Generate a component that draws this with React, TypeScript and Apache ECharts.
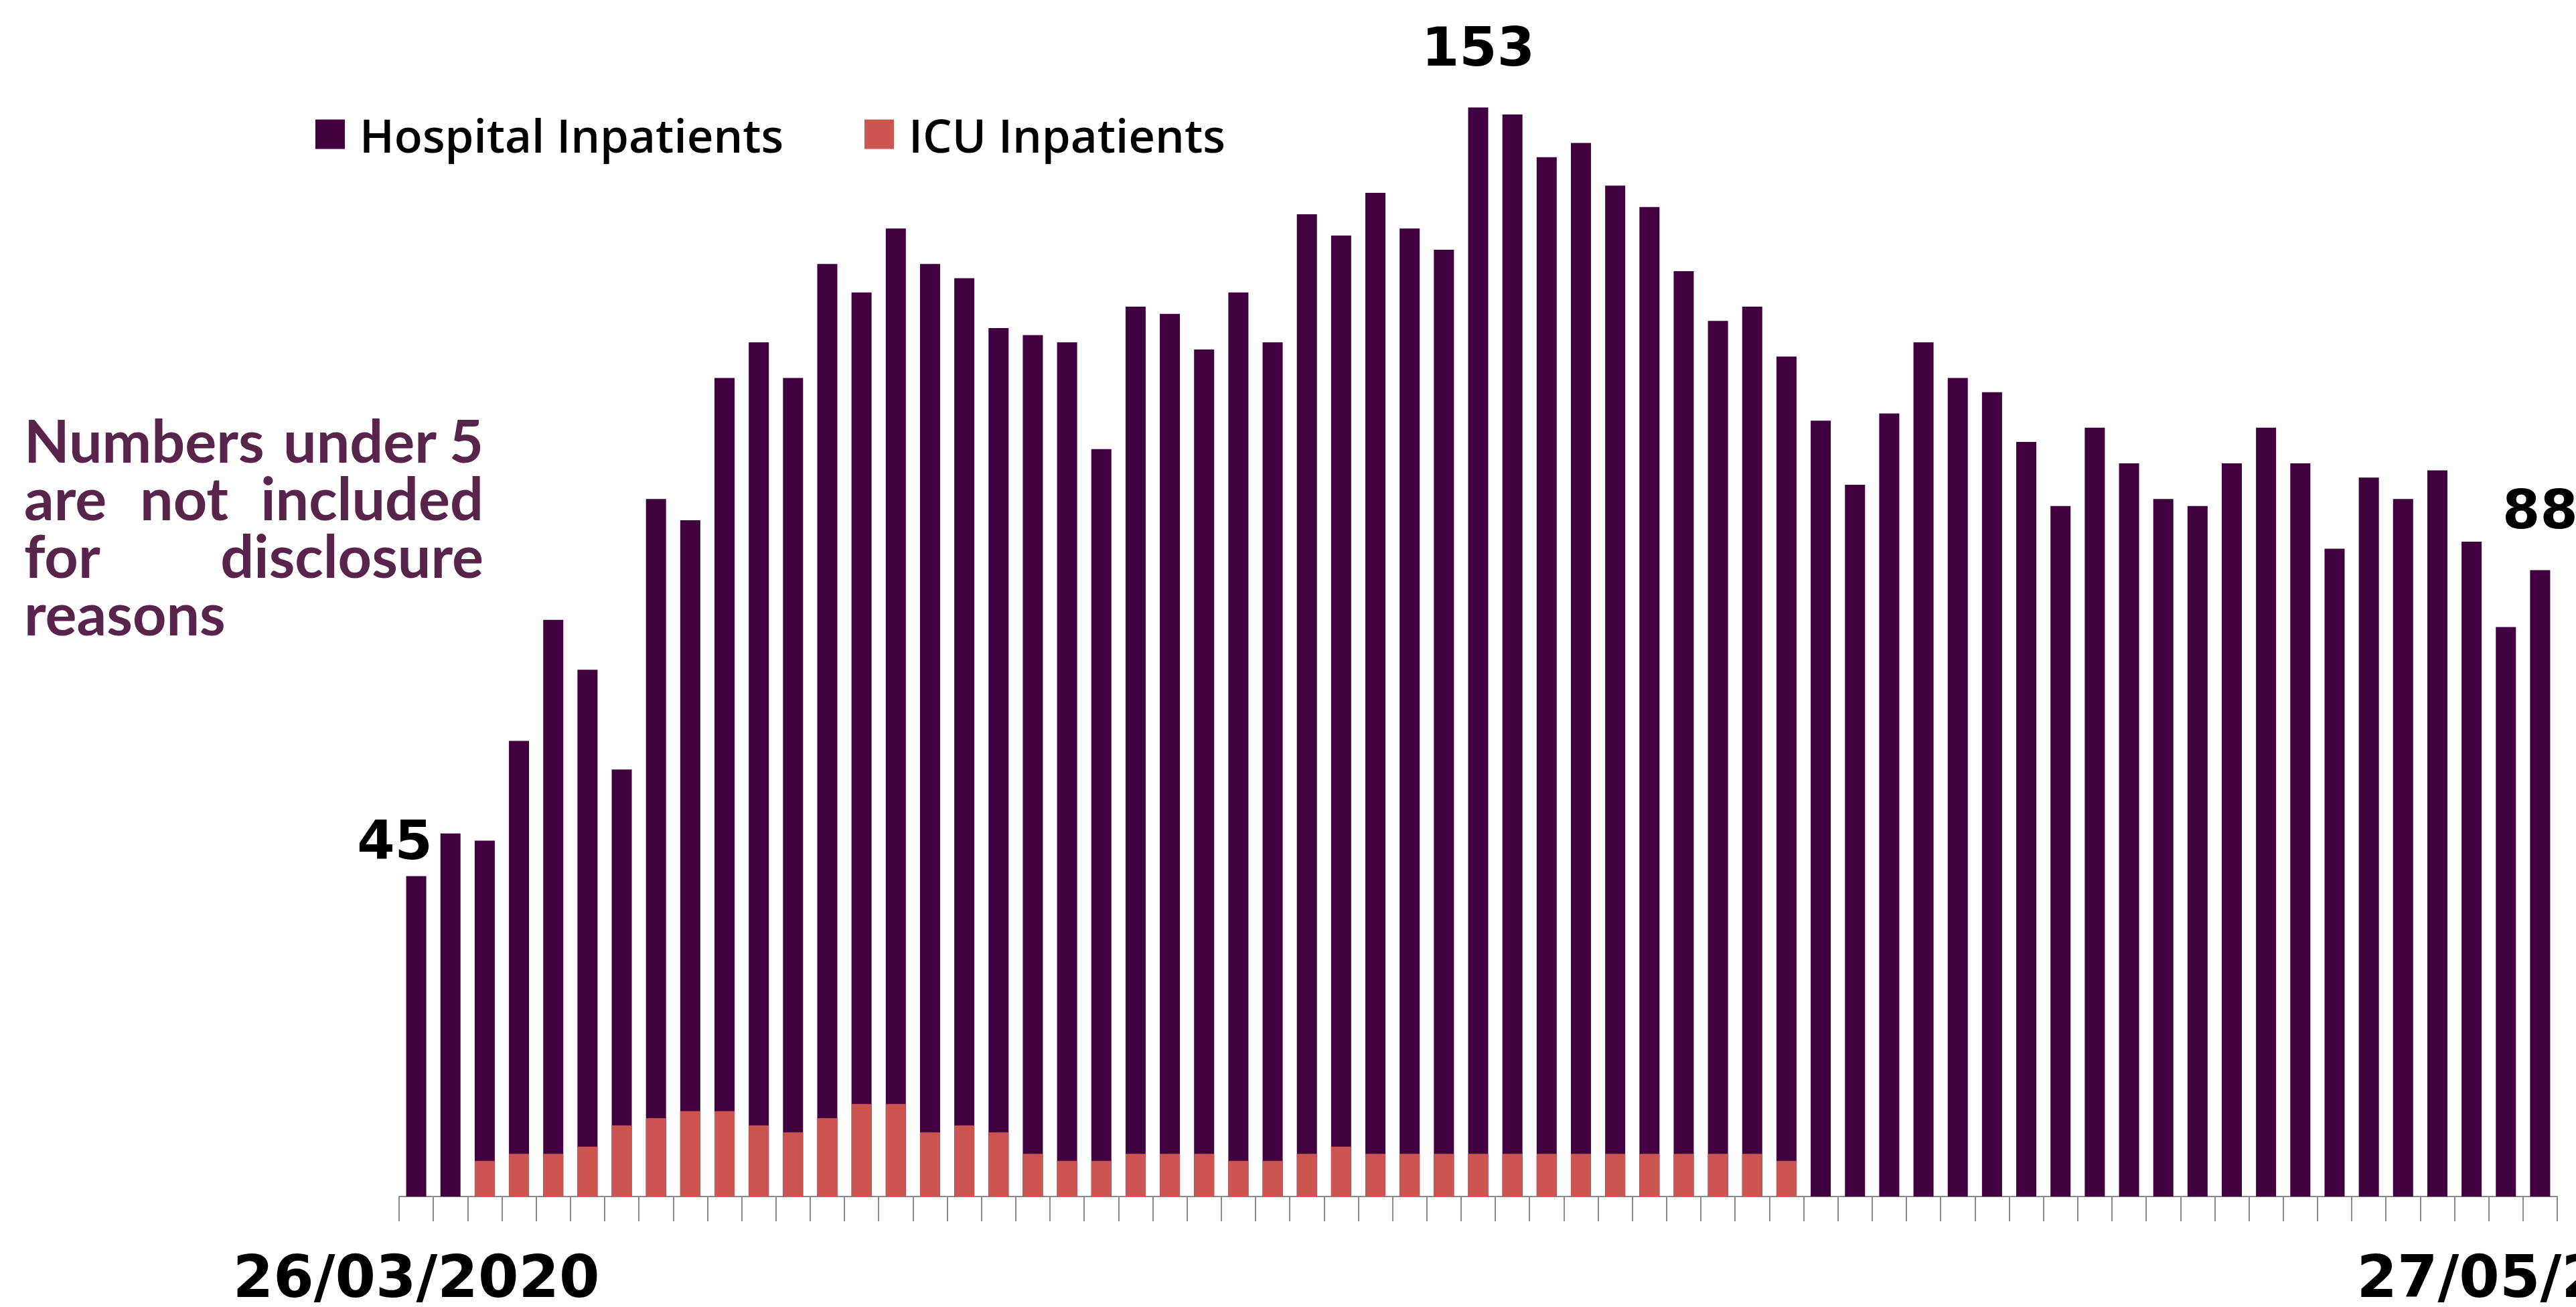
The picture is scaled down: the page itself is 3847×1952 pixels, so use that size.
import React, { useEffect, useRef } from "react";
import * as echarts from "echarts";

const categories = [
  "26/03/2020", "27/03/2020", "28/03/2020", "29/03/2020", "30/03/2020", "31/03/2020",
  "01/04/2020", "02/04/2020", "03/04/2020", "04/04/2020", "05/04/2020", "06/04/2020",
  "07/04/2020", "08/04/2020", "09/04/2020", "10/04/2020", "11/04/2020", "12/04/2020",
  "13/04/2020", "14/04/2020", "15/04/2020", "16/04/2020", "17/04/2020", "18/04/2020",
  "19/04/2020", "20/04/2020", "21/04/2020", "22/04/2020", "23/04/2020", "24/04/2020",
  "25/04/2020", "26/04/2020", "27/04/2020", "28/04/2020", "29/04/2020", "30/04/2020",
  "01/05/2020", "02/05/2020", "03/05/2020", "04/05/2020", "05/05/2020", "06/05/2020",
  "07/05/2020", "08/05/2020", "09/05/2020", "10/05/2020", "11/05/2020", "12/05/2020",
  "13/05/2020", "14/05/2020", "15/05/2020", "16/05/2020", "17/05/2020", "18/05/2020",
  "19/05/2020", "20/05/2020", "21/05/2020", "22/05/2020", "23/05/2020", "24/05/2020",
  "25/05/2020", "26/05/2020", "27/05/2020",
];

const hospitalInpatients = [
  45, 51, 50, 64, 81, 74, 60, 98, 95, 115,
  120, 115, 131, 127, 136, 131, 129, 122, 121, 120,
  105, 125, 124, 119, 127, 120, 138, 135, 141, 136,
  133, 153, 152, 146, 148, 142, 139, 130, 123, 125,
  118, 109, 100, 110, 120, 115, 113, 106, 97, 108,
  103, 98, 97, 103, 108, 103, 91, 101, 98, 102,
  92, 80, 88,
];

const icuInpatients = [
  null, null, 5, 6, 6, 7, 10, 11, 12, 12,
  10, 9, 11, 13, 13, 9, 10, 9, 6, 5,
  5, 6, 6, 6, 5, 5, 6, 7, 6, 6,
  6, 6, 6, 6, 6, 6, 6, 6, 6, 6,
  5, null, null, null, null, null, null, null, null, null,
  null, null, null, null, null, null, null, null, null, null,
  null, null, null,
];

const labelledIndices = [0, 31, 62];

const noteLines = [
  [["Numbers", 36, "left"], ["under", 423, "left"], ["5", 722, "right"]],
  [["are", 36, "left"], ["not", 209, "left"], ["included", 722, "right"]],
  [["for", 36, "left"], ["disclosure", 722, "right"]],
  [["reasons", 36, "left"]],
];

const HOSP_COLOR = "#410040";
const ICU_COLOR = "#CC5451";
const NOTE_COLOR = "#58244c";

export default function App() {
  const ref = useRef<HTMLDivElement>(null);

  useEffect(() => {
    if (!ref.current) return;
    const chart = echarts.init(ref.current, undefined, { renderer: "svg" });

    const hospData = hospitalInpatients.map((v, i) => {
      if (!labelledIndices.includes(i)) return v;
      return {
        value: v,
        label: {
          show: true,
          position: "top",
          distance: i === 0 ? 13 : 50,
          offset: i === 0 ? [-32, 0] : [0, 0],
          fontFamily: "DejaVu Sans",
          fontWeight: "bold",
          fontSize: 81,
          color: "#000",
        },
      };
    });

    const noteFontSize = 88;
    const graphics: any[] = [];
    noteLines.forEach((words, li) => {
      const baseline = 691 + li * 86;
      words.forEach(([text, x, align]) => {
        graphics.push({
          type: "text",
          x,
          y: baseline - 0.387 * noteFontSize,
          style: {
            text,
            align,
            verticalAlign: "middle",
            lineHeight: 82,
            fontFamily: "Lato",
            fontWeight: "bold",
            fontSize: noteFontSize,
            fill: NOTE_COLOR,
          },
        });
      });
    });

    const legendText = {
      fontFamily: "Open Sans",
      fontWeight: 600,
      fontSize: 69,
      color: "#000",
      padding: [0, 0, 0, 17],
    };

    const option: any = {
      animation: false,
      backgroundColor: "#ffffff",
      grid: {
        left: 596,
        right: 28,
        top: 86,
        bottom: 165,
        containLabel: false,
        outerBoundsMode: "none",
      },
      legend: [
        {
          data: ["Hospital Inpatients"],
          left: 466,
          top: 161,
          icon: "rect",
          itemWidth: 44,
          itemHeight: 44,
          selectedMode: false,
          textStyle: legendText,
        },
        {
          data: ["ICU Inpatients"],
          left: 1286,
          top: 161,
          icon: "rect",
          itemWidth: 44,
          itemHeight: 44,
          selectedMode: false,
          textStyle: legendText,
        },
      ],
      xAxis: {
        type: "category",
        data: categories,
        boundaryGap: true,
        axisLine: { show: true, lineStyle: { color: "#8a8a8a", width: 2 } },
        axisTick: { show: true, interval: 0, length: 37, lineStyle: { color: "#8a8a8a", width: 2 } },
        axisLabel: {
          interval: 61,
          margin: 76,
          fontFamily: "DejaVu Sans",
          fontWeight: "bold",
          fontSize: 87,
          color: "#000",
          hideOverlap: false,
        },
        splitLine: { show: false },
      },
      yAxis: {
        type: "value",
        min: 0,
        max: 160,
        show: false,
        splitLine: { show: false },
      },
      series: [
        {
          name: "Hospital Inpatients",
          type: "bar",
          data: hospData,
          barWidth: 30,
          barGap: "-100%",
          itemStyle: { color: HOSP_COLOR },
        },
        {
          name: "ICU Inpatients",
          type: "bar",
          data: icuInpatients,
          barWidth: 30,
          barGap: "-100%",
          itemStyle: { color: ICU_COLOR },
        },
      ],
      graphic: graphics,
    };

    chart.setOption(option);
    return () => chart.dispose();
  }, []);

  return (
    <div
      ref={ref}
      style={{ position: "fixed", left: 0, top: 0, width: "3847px", height: "1952px", background: "#fff" }}
    />
  );
}
